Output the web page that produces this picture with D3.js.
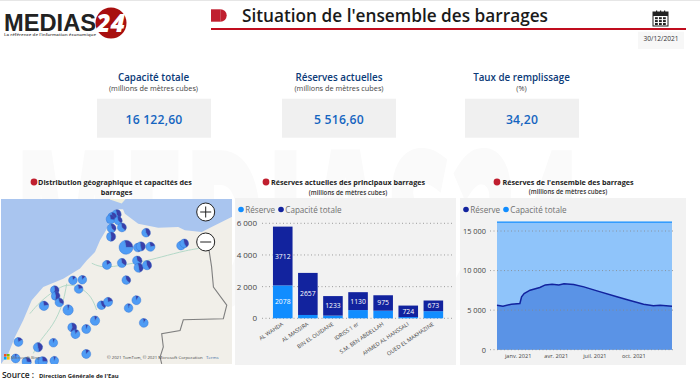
<!DOCTYPE html>
<html><head><meta charset="utf-8">
<script src="https://cdn.jsdelivr.net/npm/d3@7/dist/d3.min.js"></script>
<style>html,body{margin:0;padding:0;background:#fff}svg{display:block}text{font-family:"Open Sans",sans-serif}</style>
</head><body><svg id="c" width="700" height="384"></svg>
<script>
// ---- data ----
const kpiTitles = ["Capacité totale","Réserves actuelles","Taux de remplissage"];
const kpiUnits = ["(millions de mètres cubes)","(millions de mètres cubes)","(%)"];
const kpiValues = ["16 122,60","5 516,60","34,20"];
const damNames = ["AL WAHDA","AL MASSIRA","BIN EL OUIDANE","IDRISS 1 er","S.M. BEN ABDELLAH","AHMED AL HANSSALI","OUED EL MAKHAZINE"];
const damReserve = [2078,210,170,520,480,80,450];
const damGap = [3712,2657,1233,1130,975,724,673];
const barTicks = [0,2000,4000,6000];
const seriesDates = ["2020-11-12","2020-11-26","2020-12-16","2021-01-05","2021-01-09","2021-01-15","2021-01-29","2021-02-21","2021-03-06","2021-03-22","2021-04-07","2021-04-19","2021-05-12","2021-06-05","2021-07-06","2021-08-22","2021-09-22","2021-10-24","2021-11-16","2021-12-02","2021-12-30"];
const reserveSeries = [5630,5500,5756,5840,6680,7100,7520,7857,8190,8280,8190,8320,8235,7940,7437,6680,6220,5756,5546,5630,5500];
const capacityTotal = 16122.6;
const lineTicks = [0,5000,10000,15000];
const dateTicks = ["2021-01-01","2021-04-01","2021-07-01","2021-10-01"];
const dateLabels = ["janv. 2021","avr. 2021","juil. 2021","oct. 2021"];
// map pies: longitude, latitude, capacity, reserve share
const damLon = [-5.73,-5.92,-5.99,-5.66,-5.95,-5.50,-5.97,-4.45,-5.32,-4.81,-4.68,-4.26,-2.93,-2.79,-6.15,-5.50,-4.83,-4.77,-4.41,-7.63,-7.22,-5.31,-7.38,-8.42,-8.38,-8.22,-8.89,-7.84,-6.39,-6.10,-4.87,-5.21,-4.55,-6.67,-7.66,-7.05,-7.52,-10.0,-9.15,-8.48,-7.05,-10.12,-9.64,-9.09,-8.94,-8.44];
const damLat = [35.72,35.63,35.54,35.49,35.22,35.25,34.92,35.06,34.54,34.53,34.57,34.56,34.60,34.68,33.91,33.98,34.06,33.81,33.90,33.36,33.38,33.37,33.05,33.01,32.80,32.57,32.45,32.30,32.47,32.59,32.65,32.37,31.84,31.92,31.68,31.62,31.44,31.16,30.97,31.13,30.73,30.57,30.45,30.45,30.47,30.49];
const damCap = [1900,1500,1700,1100,1700,1700,1900,1500,5800,1400,1900,1900,1500,1500,1800,1900,2200,1900,1900,1500,1500,1500,1500,1500,1500,1500,2100,2900,1500,1800,1800,1500,1700,2100,1700,1800,1800,1700,1900,1500,1800,1700,1900,1500,1900,1500];
const damShare = [.55,.45,.7,.6,.6,.6,.45,.55,.72,.5,.5,.75,.78,.55,.8,.62,.62,.5,.55,.85,.85,.6,.75,.4,.45,.65,.75,.92,.6,.75,.88,.9,.88,.88,.4,.9,.85,.8,.5,.9,.85,.92,.7,.6,.7,.9];
// map outlines, longitude/latitude
const coast = [[-0.5,35.62],[-0.73,35.62],[-1.60,35.26],[-2.03,35.09],[-2.76,35.15],[-3.05,35.26],[-3.92,35.24],[-4.79,35.38],[-5.37,35.74],[-5.45,35.9],[-5.8,35.9],[-6.02,35.50],[-6.19,35.15],[-6.45,34.79],[-6.67,34.37],[-7.03,34.07],[-7.32,33.78],[-8.05,33.42],[-8.92,33.12],[-9.42,32.65],[-9.79,31.93],[-10.15,31.34],[-10.44,30.74],[-10.73,30.40],[-11,30.2],[-11,29],[-0.5,29]];
const spain = [[-6.02,37.3],[-6.02,36.25],[-5.51,36.1],[-5.3,36.3],[-5.3,37.3]];
const frontier = [[-1.71,34.43],[-1.60,33.84],[-1.52,33.12],[-0.94,32.47],[-1.09,31.99],[-2.83,31.95],[-2.97,31.57],[-3.77,31.45],[-3.70,30.98],[-3.84,30.62],[-3.77,30.38]];
const rivers = [
  [[-6.81,33.97],[-6.31,33.79],[-5.44,33.91],[-4.57,34.03],[-3.84,34.18],[-2.68,34.44],[-1.81,34.54]],
  [[-7.90,33.24],[-8.05,32.53],[-8.48,31.75],[-9.06,31.23],[-9.35,30.75]],
  [[-9.50,32.17],[-9.06,32.6],[-8.41,33.01],[-7.90,33.24],[-7.32,33.13],[-6.81,32.78],[-6.60,32.3]]
];

const svg = d3.select("#c");
const RED = "#c01f2f", NAVY = "#12239e", BLUE = "#118dff", TXT = "#0b3a78";

// watermark
svg.append("text").attr("transform","translate(14,310) scale(1,2)").attr("font-size",112).attr("font-weight",800)
  .attr("fill","#fafafa").text("MEDIAS24");

// top grey strip
svg.append("rect").attr("width",700).attr("height",1).attr("fill","#e6e6e6");

// logo
const logo = svg.append("g");
logo.append("circle").attr("cx",111).attr("cy",23).attr("r",15.5).attr("fill","#a80f0f");
logo.append("text").attr("x",4).attr("y",31).attr("font-size",24).attr("font-weight",800).attr("fill","#222")
  .attr("style","font-family:'Liberation Sans'").attr("textLength",92).attr("lengthAdjust","spacingAndGlyphs").text("MEDIAS");
logo.append("text").attr("x",96).attr("y",32).attr("font-size",25).attr("font-weight",800).attr("fill","#fff")
  .attr("textLength",29).attr("lengthAdjust","spacingAndGlyphs").attr("font-style","italic").text("24");
logo.append("text").attr("x",4).attr("y",36).attr("font-size",4).attr("font-weight",600).attr("fill","#444")
  .attr("textLength",92).attr("lengthAdjust","spacingAndGlyphs").text("La référence de l'information économique");

// title
svg.append("path").attr("d",d3.arc()({innerRadius:0,outerRadius:6.2,startAngle:0,endAngle:Math.PI}))
  .attr("transform","translate(220.5,15.5)").attr("fill",RED);
svg.append("rect").attr("x",211).attr("y",9.3).attr("width",9.6).attr("height",12.4).attr("fill",RED);
svg.append("rect").attr("x",211).attr("y",28).attr("width",475).attr("height",2).attr("fill","#c00d1e");
svg.append("text").attr("x",242).attr("y",22).attr("font-size",18.5).attr("font-weight",600).attr("fill","#1a1a1a")
  .attr("textLength",306).attr("lengthAdjust","spacingAndGlyphs").text("Situation de l'ensemble des barrages");

// calendar icon
const cal = svg.append("g").attr("transform","translate(653,12)");
cal.append("rect").attr("width",15).attr("height",14).attr("fill","#fff").attr("stroke","#222").attr("stroke-width",1);
cal.append("rect").attr("width",15).attr("height",4).attr("fill","#222");
cal.selectAll("rect.r").data([3,7,11]).join("rect").attr("x",d=>d).attr("y",-1.5).attr("width",1.2).attr("height",3).attr("fill","#222");
cal.selectAll("rect.c").data(d3.range(9)).join("rect").attr("x",d=>2+(d%3)*4).attr("y",d=>5.2+Math.floor(d/3)*2.9)
  .attr("width",2.8).attr("height",2).attr("fill","#222");
svg.append("rect").attr("x",638).attr("y",31.7).attr("width",46).attr("height",17.3).attr("fill","#f7f7f7");
svg.append("text").attr("x",661).attr("y",40.5).attr("text-anchor","middle").attr("font-size",6.6).attr("fill","#333").text("30/12/2021");

// KPIs
const kpiCx = [153.5,339,521.5];
const kpiX = [97,282,465];
kpiTitles.forEach((t,i)=>{
  svg.append("text").attr("x",kpiCx[i]).attr("y",80.5).attr("text-anchor","middle").attr("font-size",9.8).attr("font-weight",600).attr("fill",TXT).text(t);
  svg.append("text").attr("x",kpiCx[i]).attr("y",91).attr("text-anchor","middle").attr("font-size",7.3).attr("fill","#444").text(kpiUnits[i]);
  svg.append("rect").attr("x",kpiX[i]).attr("y",98.7).attr("width",114).attr("height",39).attr("fill","#f0f0f0");
  svg.append("text").attr("x",kpiX[i]+57).attr("y",123.5).attr("text-anchor","middle").attr("font-size",12.2).attr("font-weight",600)
    .attr("letter-spacing",.2).attr("fill","#1565c0").text(kpiValues[i]);
});

// section headings
function heading(cx,y,str,dotX){
  svg.append("circle").attr("cx",dotX).attr("cy",182).attr("r",3.4).attr("fill",RED);
  svg.append("text").attr("x",cx).attr("y",y).attr("text-anchor","middle").attr("font-size",7.2).attr("font-weight",700).attr("fill","#222").text(str);
}
heading(115,185,"Distribution géographique et capacités des",34);
svg.append("text").attr("x",116.5).attr("y",195).attr("text-anchor","middle").attr("font-size",7.2).attr("font-weight",700).attr("fill","#222").text("barrages");
heading(348,185,"Réserves actuelles des principaux barrages",266);
svg.append("text").attr("x",348).attr("y",195).attr("text-anchor","middle").attr("font-size",6.2).attr("font-weight",600).attr("fill","#333").text("(millions de mètres cubes)");
heading(568,184.5,"Réserves de l'ensemble des barrages",497);
svg.append("text").attr("x",568).attr("y",194).attr("text-anchor","middle").attr("font-size",6.2).attr("font-weight",600).attr("fill","#333").text("(millions de mètres cubes)");

// ---- map ----
svg.append("clipPath").attr("id","mapClip").append("rect").attr("x",1).attr("y",199).attr("width",231).attr("height",165);
const map = svg.append("g").attr("clip-path","url(#mapClip)");
const lonScale = d3.scaleLinear().domain([-10.8,-5.8]).range([0,115]);
const latScale = d3.scaleLinear().domain([37.3,35.8]).range([170,212]);
const P = a => a.map(([lon,lat])=>[lonScale(lon),latScale(lat)]);
map.append("rect").attr("x",1).attr("y",199).attr("width",231).attr("height",165).attr("fill","#a9c5ef");
map.append("path").attr("d",d3.line()(P(coast))+"Z").attr("fill","#f1efe9");
map.append("path").attr("d",d3.line()(P(spain))+"Z").attr("fill","#eeeedd");
map.selectAll("path.r").data(rivers).join("path").attr("d",d=>d3.line().curve(d3.curveBasis)(P(d))).attr("fill","none").attr("stroke","#b4d9c8").attr("stroke-width",1);
map.append("path").attr("d",d3.line()(P(frontier))).attr("fill","none").attr("stroke","#7f7f7f").attr("stroke-width",1.1);
// pies
const rScale = d3.scaleLinear().domain([1100,5800]).range([4.1,7]);
const pie = d3.pie().sort(null).value(d=>d).startAngle(-Math.PI*.06).endAngle(Math.PI*1.94);
const arc = d3.arc().innerRadius(0);
damLon.forEach((lon,i)=>{
  const g = map.append("g").attr("transform",`translate(${lonScale(lon)},${latScale(damLat[i])})`);
  const r = rScale(damCap[i]);
  g.selectAll("path").data(pie([1-damShare[i],damShare[i]])).join("path")
    .attr("d",d=>arc.outerRadius(r)(d)).attr("fill",(d,j)=>j?"#4f9cf5":"#3b3fa8").attr("stroke","#2f6fd0").attr("stroke-width",.4);
});
// map controls
[[205.7,212,"+"],[205.7,242,"−"]].forEach(([x,y,s])=>{
  map.append("circle").attr("cx",x).attr("cy",y).attr("r",9).attr("fill","#fff").attr("stroke","#222").attr("stroke-width",1);
  map.append("path").attr("d",`M${x-5.5},${y}H${x+5.5}${s=="+"?`M${x},${y-5.5}V${y+5.5}`:""}`).attr("stroke","#222").attr("stroke-width",1);
});
svg.append("text").attr("x",107).attr("y",359).attr("font-size",4.3).attr("fill","#444").text("© 2021 TomTom, © 2021 Microsoft Corporation");
svg.append("text").attr("x",206).attr("y",359).attr("font-size",4.3).attr("fill","#3a6ea5").text("Terms");
[["#f25022",4,354],["#7fba00",7,354],["#00a4ef",4,357],["#ffb900",7,357]].forEach(([c,x,y])=>svg.append("rect").attr("x",x).attr("y",y).attr("width",2.6).attr("height",2.6).attr("fill",c));
svg.append("text").attr("x",11).attr("y",359).attr("font-size",4.3).attr("fill","#666").text("Microsoft Bing");

// source
svg.append("text").attr("x",2).attr("y",378).attr("font-size",8.4).attr("font-weight",600).attr("fill","#222").text("Source :");
svg.append("text").attr("x",39).attr("y",378).attr("font-size",5.9).attr("font-weight",700).attr("fill","#222").text("Direction Générale de l'Eau");

// ---- bar chart ----
svg.append("rect").attr("x",235).attr("y",198).attr("width",221).attr("height",167).attr("fill","#f2f2f2");
function legend(x0,items){
  items.forEach(([c,t,dx])=>{
    svg.append("circle").attr("cx",x0+dx).attr("cy",209.5).attr("r",2.8).attr("fill",c);
    svg.append("text").attr("x",x0+dx+4.3).attr("y",212.5).attr("font-size",8.1).attr("fill","#707070").text(t);
  });
}
legend(241,[[BLUE,"Réserve",0],[NAVY,"Capacité totale",40]]);
const by = d3.scaleLinear().domain([0,6000]).range([318.3,223.3]);
const bx = d3.scaleBand().domain(damNames).range([270.2,445.9]).paddingInner(.22).paddingOuter(.11);
const gy = svg.append("g").attr("transform","translate(260,0)").call(d3.axisLeft(by).tickValues(barTicks).tickSize(0).tickPadding(3).tickFormat(d=>d3.format(",")(d).replace(",","\u00a0")));
gy.select(".domain").remove();
gy.selectAll("text").attr("font-size",8).attr("fill","#444").attr("font-family","Open Sans");
svg.append("g").selectAll("line").data(barTicks).join("line").attr("x1",262).attr("x2",454).attr("y1",d=>by(d)).attr("y2",d=>by(d))
  .attr("stroke","#888").attr("stroke-width",.8).attr("stroke-dasharray","1 2.5");
const barW = bx.bandwidth();
svg.append("g").selectAll("rect").data(damNames).join("rect").attr("x",d=>bx(d)).attr("width",barW)
  .attr("y",(d,i)=>by(damReserve[i])).attr("height",(d,i)=>by(0)-by(damReserve[i])).attr("fill",BLUE);
svg.append("g").selectAll("rect").data(damNames).join("rect").attr("x",d=>bx(d)).attr("width",barW)
  .attr("y",(d,i)=>by(damReserve[i]+damGap[i])).attr("height",(d,i)=>by(0)-by(damGap[i])).attr("fill",NAVY);
svg.append("g").selectAll("text").data(damNames).join("text").attr("text-anchor","middle").attr("font-size",6.8).attr("fill","#fff")
  .attr("x",d=>bx(d)+barW/2).attr("y",(d,i)=>by(damReserve[i]+damGap[i]/2)+2.5).text((d,i)=>damGap[i]);
svg.append("text").attr("x",bx(damNames[0])+barW/2).attr("y",by(damReserve[0]/2)+2.5).attr("text-anchor","middle").attr("font-size",6.8).attr("fill","#fff").text(damReserve[0]);
svg.append("g").selectAll("text").data(damNames).join("text").attr("text-anchor","end").attr("font-size",5.5).attr("fill","#444")
  .attr("transform",d=>`translate(${bx(d)+barW/2+1},${325}) rotate(-34)`).text(d=>d);

// ---- area chart ----
svg.append("rect").attr("x",460).attr("y",198).attr("width",226).attr("height",167).attr("fill","#f2f2f2");
legend(466,[[NAVY,"Réserve",0],[BLUE,"Capacité totale",40]]);
const parse = d3.utcParse("%Y-%m-%d");
const tx = d3.scaleUtc().domain([parse(seriesDates[0]),parse(seriesDates[seriesDates.length-1])]).range([497,672]);
const ty = d3.scaleLinear().domain([0,15000]).range([349.7,231]);
const pts = seriesDates.map((m,i)=>({d:parse(m),v:reserveSeries[i]}));
svg.append("rect").attr("x",tx.range()[0]).attr("width",tx.range()[1]-tx.range()[0]).attr("y",ty(capacityTotal)).attr("height",ty(0)-ty(capacityTotal)).attr("fill","#8fc4fa");
svg.append("path").datum(pts).attr("fill","#5a93e6").attr("d",d3.area().x(d=>tx(d.d)).y0(ty(0)).y1(d=>ty(d.v)));
svg.append("g").selectAll("line").data(lineTicks).join("line").attr("x1",490).attr("x2",675).attr("y1",d=>ty(d)).attr("y2",d=>ty(d))
  .attr("stroke","#888").attr("stroke-width",.8).attr("stroke-dasharray","1 2.5");
svg.append("line").attr("x1",tx.range()[0]).attr("x2",tx.range()[1]).attr("y1",ty(capacityTotal)).attr("y2",ty(capacityTotal)).attr("stroke",BLUE).attr("stroke-width",1.1);
svg.append("path").datum(pts).attr("fill","none").attr("stroke",NAVY).attr("stroke-width",1.5).attr("d",d3.line().x(d=>tx(d.d)).y(d=>ty(d.v)));
const ly = svg.append("g").attr("transform","translate(489,0)").call(d3.axisLeft(ty).tickValues(lineTicks).tickSize(0).tickPadding(3).tickFormat(d=>d3.format(",")(d).replace(",","\u00a0")));
ly.select(".domain").remove();
ly.selectAll("text").attr("font-size",7.4).attr("fill","#444").attr("font-family","Open Sans");
svg.append("g").selectAll("text").data(dateTicks).join("text").attr("text-anchor","middle").attr("font-size",5.6).attr("fill","#444")
  .attr("x",d=>tx(parse(d))).attr("y",358).text((d,i)=>dateLabels[i]);
</script></body></html>
